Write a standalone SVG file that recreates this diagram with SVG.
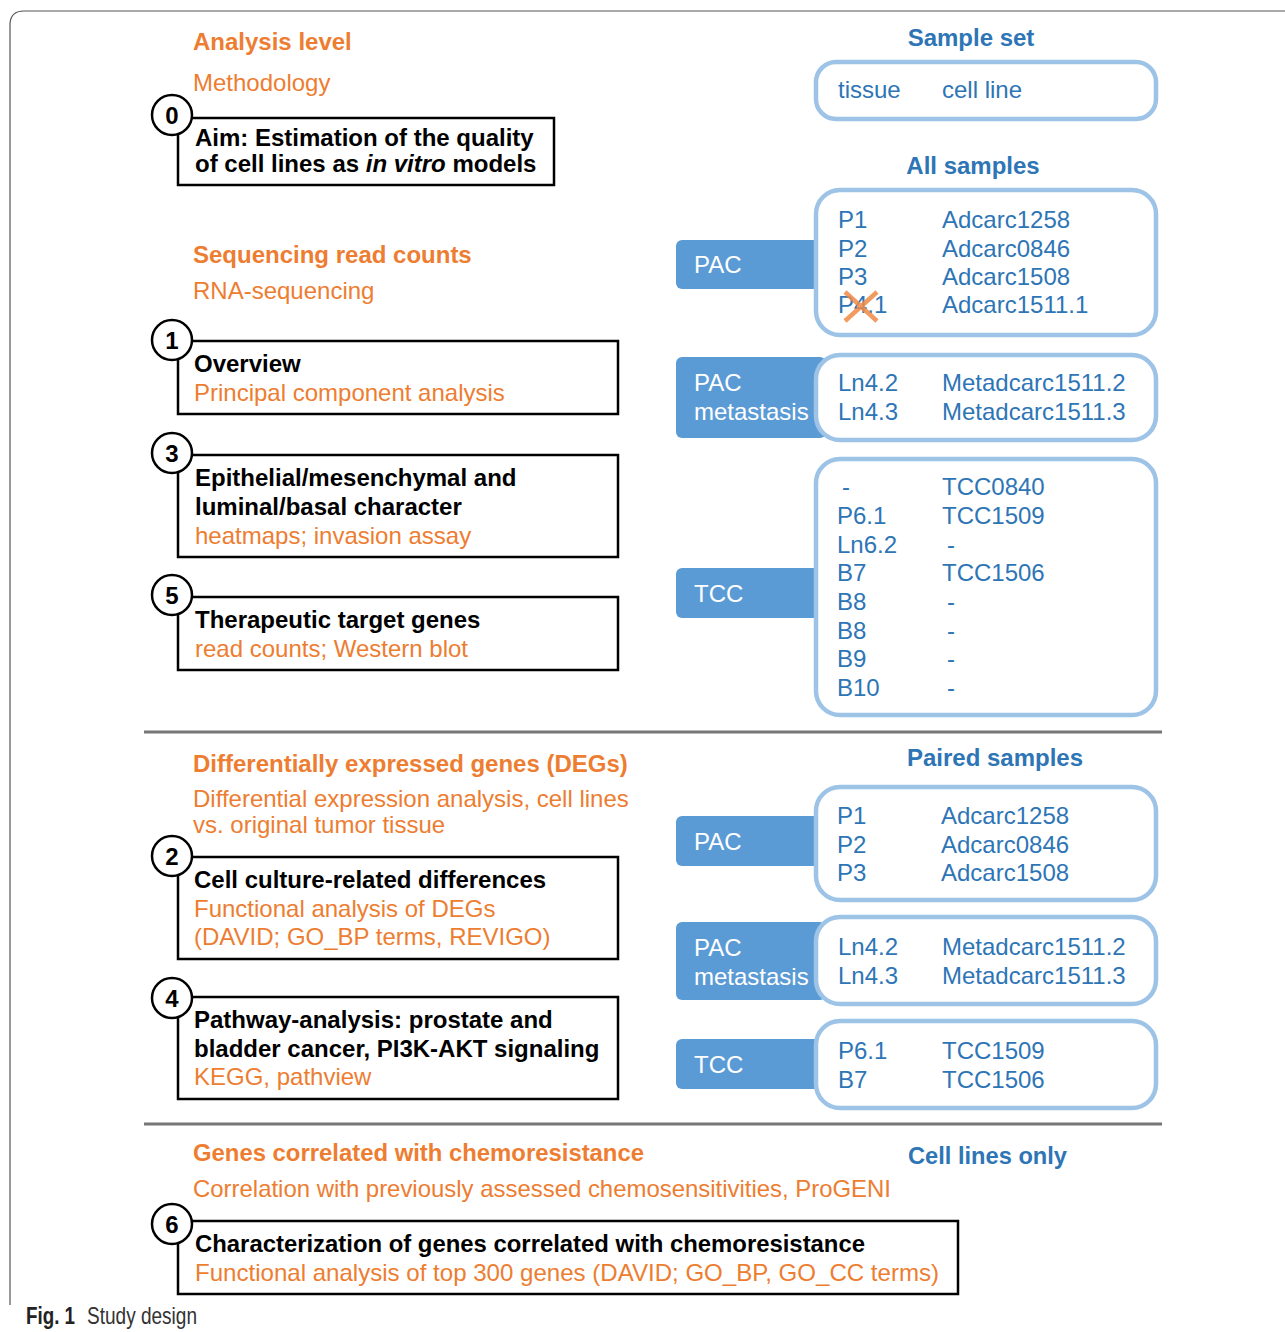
<svg xmlns="http://www.w3.org/2000/svg" width="1285" height="1332" viewBox="0 0 1285 1332">
<style>
text{font-family:"Liberation Sans",Arial,sans-serif;font-size:24px}
.o{fill:#ED7D31}
.ob{fill:#ED7D31;font-weight:bold}
.k{fill:#000;font-weight:bold}
.b{fill:#2E75B6}
.bb{fill:#2E75B6;font-weight:bold}
.w{fill:#fff}
.box{fill:#fff;stroke:#000;stroke-width:2.5}
.circ{fill:#fff;stroke:#000;stroke-width:2.5}
.num{fill:#000;font-weight:bold;font-size:24px;text-anchor:middle}
.sbox{fill:#fff;stroke:#9DC3E6;stroke-width:4.5}
.tab{fill:#5B9BD5}
.sep{stroke:#777;stroke-width:3}
</style>
<path d="M10,1305 L10,25 Q10,11 24,11 L1285,11" fill="none" stroke="#555" stroke-width="1.2"/>

<g id="headers-left">
<text class="ob" x="193" y="50">Analysis level</text>
<text class="o" x="193" y="91">Methodology</text>
<text class="ob" x="193" y="263">Sequencing read counts</text>
<text class="o" x="193" y="299">RNA-sequencing</text>
<text class="ob" x="193" y="772">Differentially expressed genes (DEGs)</text>
<text class="o" x="193" y="807">Differential expression analysis, cell lines</text>
<text class="o" x="193" y="833">vs. original tumor tissue</text>
<text class="ob" x="193" y="1161" textLength="451" lengthAdjust="spacingAndGlyphs">Genes correlated with chemoresistance</text>
<text class="o" x="193" y="1197" textLength="698" lengthAdjust="spacingAndGlyphs">Correlation with previously assessed chemosensitivities, ProGENI</text>
</g>

<g id="step0">
<rect class="box" x="178" y="118" width="376" height="67"/>
<circle class="circ" cx="172" cy="115" r="20"/>
<text class="num" x="172" y="124">0</text>
<text class="k" x="195" y="146">Aim: Estimation of the quality</text>
<text class="k" x="195" y="172">of cell lines as <tspan font-style="italic">in vitro</tspan> models</text>
</g>
<g id="step1">
<rect class="box" x="178" y="341" width="440" height="73"/>
<circle class="circ" cx="172" cy="340" r="20"/>
<text class="num" x="172" y="349">1</text>
<text class="k" x="194" y="372">Overview</text>
<text class="o" x="194" y="401">Principal component analysis</text>
</g>
<g id="step3">
<rect class="box" x="178" y="455" width="440" height="102"/>
<circle class="circ" cx="172" cy="453" r="20"/>
<text class="num" x="172" y="462">3</text>
<text class="k" x="195" y="486">Epithelial/mesenchymal and</text>
<text class="k" x="195" y="515">luminal/basal character</text>
<text class="o" x="195" y="544">heatmaps; invasion assay</text>
</g>
<g id="step5">
<rect class="box" x="178" y="597" width="440" height="73"/>
<circle class="circ" cx="172" cy="595" r="20"/>
<text class="num" x="172" y="604">5</text>
<text class="k" x="195" y="628">Therapeutic target genes</text>
<text class="o" x="195" y="657">read counts; Western blot</text>
</g>
<g id="step2">
<rect class="box" x="178" y="857" width="440" height="102"/>
<circle class="circ" cx="172" cy="856" r="20"/>
<text class="num" x="172" y="865">2</text>
<text class="k" x="194" y="888">Cell culture-related differences</text>
<text class="o" x="194" y="917">Functional analysis of DEGs</text>
<text class="o" x="194" y="945">(DAVID; GO_BP terms, REVIGO)</text>
</g>
<g id="step4">
<rect class="box" x="178" y="997" width="440" height="102"/>
<circle class="circ" cx="172" cy="998" r="20"/>
<text class="num" x="172" y="1007">4</text>
<text class="k" x="194" y="1028">Pathway-analysis: prostate and</text>
<text class="k" x="194" y="1057">bladder cancer, PI3K-AKT signaling</text>
<text class="o" x="194" y="1085">KEGG, pathview</text>
</g>
<g id="step6">
<rect class="box" x="178" y="1221" width="780" height="73"/>
<circle class="circ" cx="172" cy="1224" r="20"/>
<text class="num" x="172" y="1233">6</text>
<text class="k" x="195" y="1252" textLength="670" lengthAdjust="spacingAndGlyphs">Characterization of genes correlated with chemoresistance</text>
<text class="o" x="195" y="1281" textLength="744" lengthAdjust="spacingAndGlyphs">Functional analysis of top 300 genes (DAVID; GO_BP, GO_CC terms)</text>
</g>

<g id="separators">
<line class="sep" x1="144" y1="732" x2="1162" y2="732"/>
<line class="sep" x1="144" y1="1124" x2="1162" y2="1124"/>
</g>

<g id="sample-set">
<text class="bb" x="971" y="46" text-anchor="middle">Sample set</text>
<rect class="sbox" x="816" y="62" width="340" height="57" rx="20"/>
<text class="b" x="838" y="98">tissue</text>
<text class="b" x="942" y="98">cell line</text>
</g>

<g id="all-samples">
<text class="bb" x="973" y="174" text-anchor="middle">All samples</text>
<g id="all-pac">
<rect class="tab" x="676" y="240" width="150" height="49" rx="6"/>
<text class="w" x="694" y="273">PAC</text>
<rect class="sbox" x="816" y="190" width="340" height="145" rx="24"/>
<text class="b" x="838" y="228">P1</text><text class="b" x="942" y="228">Adcarc1258</text>
<text class="b" x="838" y="257">P2</text><text class="b" x="942" y="257">Adcarc0846</text>
<text class="b" x="838" y="285">P3</text><text class="b" x="942" y="285">Adcarc1508</text>
<text class="b" x="838" y="313">P4.1</text><text class="b" x="942" y="313">Adcarc1511.1</text>
<path d="M845,321 L877,292 M845,292 L877,321" stroke="#F08A45" stroke-width="4.5" stroke-opacity="0.85" fill="none"/>
</g>
<g id="all-met">
<rect class="tab" x="676" y="357" width="150" height="81" rx="6"/>
<text class="w" x="694" y="391">PAC</text>
<text class="w" x="694" y="420">metastasis</text>
<rect class="sbox" x="816" y="355" width="340" height="85" rx="24"/>
<text class="b" x="838" y="391">Ln4.2</text><text class="b" x="942" y="391">Metadcarc1511.2</text>
<text class="b" x="838" y="420">Ln4.3</text><text class="b" x="942" y="420">Metadcarc1511.3</text>
</g>
<g id="all-tcc">
<rect class="tab" x="676" y="568" width="150" height="50" rx="6"/>
<text class="w" x="694" y="602">TCC</text>
<rect class="sbox" x="816" y="459" width="340" height="256" rx="24"/>
<text class="b" x="842" y="495">-</text><text class="b" x="942" y="495">TCC0840</text>
<text class="b" x="837" y="524">P6.1</text><text class="b" x="942" y="524">TCC1509</text>
<text class="b" x="837" y="553">Ln6.2</text><text class="b" x="947" y="553">-</text>
<text class="b" x="837" y="581">B7</text><text class="b" x="942" y="581">TCC1506</text>
<text class="b" x="837" y="610">B8</text><text class="b" x="947" y="610">-</text>
<text class="b" x="837" y="639">B8</text><text class="b" x="947" y="639">-</text>
<text class="b" x="837" y="667">B9</text><text class="b" x="947" y="667">-</text>
<text class="b" x="837" y="696">B10</text><text class="b" x="947" y="696">-</text>
</g>
</g>

<g id="paired-samples">
<text class="bb" x="995" y="766" text-anchor="middle">Paired samples</text>
<g id="paired-pac">
<rect class="tab" x="676" y="816" width="150" height="50" rx="6"/>
<text class="w" x="694" y="850">PAC</text>
<rect class="sbox" x="816" y="787" width="340" height="113" rx="24"/>
<text class="b" x="837" y="824">P1</text><text class="b" x="941" y="824">Adcarc1258</text>
<text class="b" x="837" y="853">P2</text><text class="b" x="941" y="853">Adcarc0846</text>
<text class="b" x="837" y="881">P3</text><text class="b" x="941" y="881">Adcarc1508</text>
</g>
<g id="paired-met">
<rect class="tab" x="676" y="922" width="150" height="78" rx="6"/>
<text class="w" x="694" y="956">PAC</text>
<text class="w" x="694" y="985">metastasis</text>
<rect class="sbox" x="816" y="917" width="340" height="87" rx="24"/>
<text class="b" x="838" y="955">Ln4.2</text><text class="b" x="942" y="955">Metadcarc1511.2</text>
<text class="b" x="838" y="984">Ln4.3</text><text class="b" x="942" y="984">Metadcarc1511.3</text>
</g>
<g id="paired-tcc">
<rect class="tab" x="676" y="1039" width="150" height="50" rx="6"/>
<text class="w" x="694" y="1073">TCC</text>
<rect class="sbox" x="816" y="1021" width="340" height="87" rx="24"/>
<text class="b" x="838" y="1059">P6.1</text><text class="b" x="942" y="1059">TCC1509</text>
<text class="b" x="838" y="1088">B7</text><text class="b" x="942" y="1088">TCC1506</text>
</g>
</g>

<g id="cell-lines-only">
<text class="bb" x="908" y="1164" textLength="159" lengthAdjust="spacingAndGlyphs">Cell lines only</text>
</g>

<g id="caption">
<text x="26" y="1324" font-size="20" font-weight="bold" fill="#222" textLength="49" lengthAdjust="spacingAndGlyphs">Fig. 1</text>
<text x="87" y="1324" font-size="20" fill="#333" textLength="110" lengthAdjust="spacingAndGlyphs">Study design</text>
</g>
</svg>
